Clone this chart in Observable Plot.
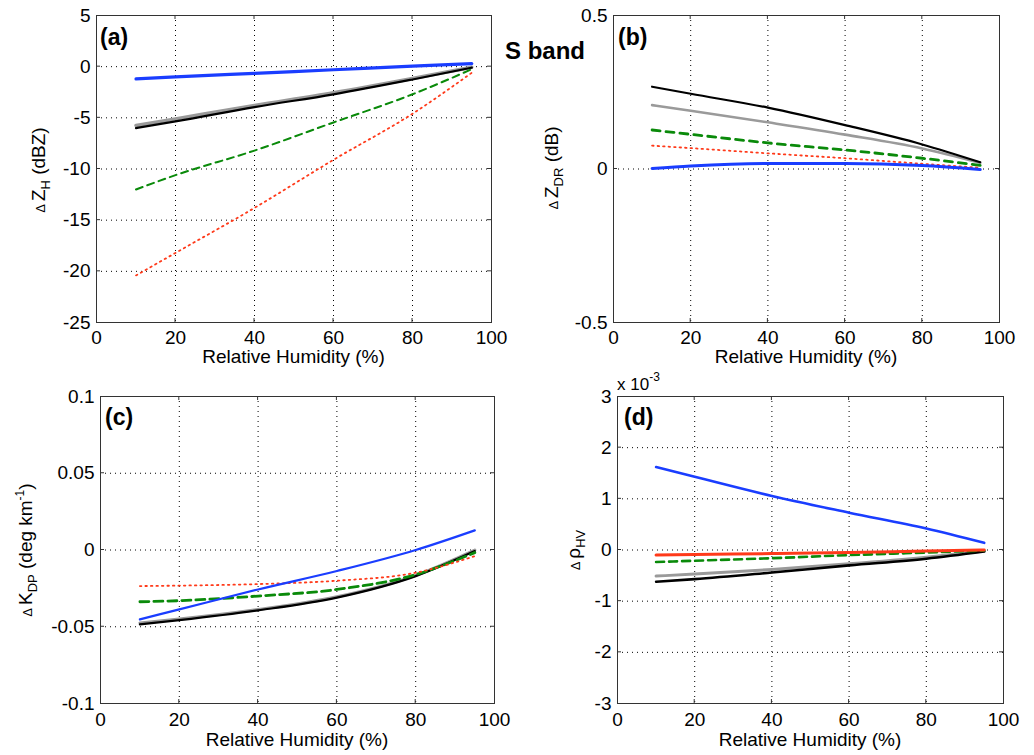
<!DOCTYPE html>
<html><head><meta charset="utf-8">
<script src="https://cdn.jsdelivr.net/npm/d3@7"></script>
<script src="https://cdn.jsdelivr.net/npm/@observablehq/plot@0.6"></script>
<style>
body{margin:0;background:#fff;font-family:"Liberation Sans",Arial,sans-serif;}
#wrap{position:relative;width:1034px;height:755px;overflow:hidden;}
.panel{position:absolute;}
.panel svg{overflow:visible;}
#title{position:absolute;left:505px;top:39px;font:bold 24px "Liberation Sans",Arial,sans-serif;line-height:1;color:#000;white-space:nowrap;}
</style></head><body><div id="wrap"><div id="title">S band</div></div>
<script>
// ---------- data ----------
const rh = [10, 20, 40, 60, 80, 95];               // Relative Humidity (%)
const xTicks = [0, 20, 40, 60, 80, 100];

// (a) ΔZH (dBZ)
const zhTicks = [5, 0, -5, -10, -15, -20, -25];
const zhGray  = [-5.75, -5.1, -3.8, -2.55, -1.15, -0.05];
const zhBlack = [-6.0, -5.35, -3.95, -2.7, -1.25, -0.1];
const zhGreen = [-12.0, -10.6, -8.2, -5.45, -2.7, -0.25];
const zhRed   = [-20.4, -18.2, -13.8, -9.1, -4.6, -0.6];
const zhBlue  = [-1.2, -1.0, -0.65, -0.3, 0.05, 0.3];

// (b) ΔZDR (dB)
const zdrTicks = [0.5, 0, -0.5];
const zdrGray  = [0.208, 0.19, 0.152, 0.112, 0.067, 0.02];
const zdrBlack = [0.268, 0.245, 0.2, 0.143, 0.08, 0.022];
const zdrGreen = [0.127, 0.113, 0.085, 0.062, 0.035, 0.012];
const zdrRed   = [0.076, 0.068, 0.051, 0.035, 0.017, 0.004];
const zdrBlue  = [0.002, 0.01, 0.018, 0.018, 0.011, -0.002];

// (c) ΔKDP (deg km^-1)
const kdpTicks = [0.1, 0.05, 0, -0.05, -0.1];
const kdpGray  = [-0.0475, -0.045, -0.0388, -0.0305, -0.0165, 0.0];
const kdpBlack = [-0.0485, -0.0457, -0.0393, -0.031, -0.017, -0.0007];
const kdpGreen = [-0.0337, -0.033, -0.030, -0.0257, -0.016, -0.0017];
const kdpRed   = [-0.0235, -0.0232, -0.0222, -0.020, -0.0148, -0.004];
const kdpBlue  = [-0.0452, -0.0387, -0.0257, -0.0137, 0.0, 0.0128];

// (d) ΔρHV (x 10^-3)
const rhoTicks = [3, 2, 1, 0, -1, -2, -3];
const rhoGray  = [-0.51, -0.47, -0.38, -0.27, -0.14, -0.02];
const rhoBlack = [-0.62, -0.57, -0.44, -0.3, -0.17, -0.03];
const rhoGreen = [-0.235, -0.21, -0.16, -0.1, -0.05, -0.01];
const rhoRed   = [-0.1, -0.09, -0.07, -0.05, -0.02, 0.0];
const rhoBlue  = [1.62, 1.43, 1.055, 0.73, 0.42, 0.14];

// ---------- styling ----------
const FONT = '"Liberation Sans", Arial, sans-serif';
const COL = {gray: "#9a9a9a", black: "#000000", green: "#0a8a0a", red: "#ff3a1a", blue: "#1a3dff"};

function rows(obj) {
  const out = [];
  for (const k of Object.keys(obj)) obj[k].forEach((v, i) => out.push({x: rh[i], y: v, s: k}));
  return out;
}

function panel(cfg) {
  const {left, top, width, height, m, yTicks, series, sty} = cfg;
  const data = rows(series);
  const yDom = [d3.min(yTicks), d3.max(yTicks)];
  const gridY = yTicks.filter(t => t !== yDom[0] && t !== yDom[1]);
  const lineMarks = Object.keys(series).map(k => Plot.line(data.filter(d => d.s === k), {
    x: "x", y: "y", stroke: COL[k], strokeWidth: sty[k].w,
    strokeDasharray: sty[k].dash || null, curve: "monotone-x"
  }));
  const svg = Plot.plot({
    width, height,
    marginLeft: m[0], marginRight: m[1], marginTop: m[2], marginBottom: m[3],
    style: {fontFamily: FONT, fontSize: "19px", color: "#000", background: "transparent", overflow: "visible"},
    x: {domain: [0, 100], ticks: xTicks, tickFormat: d => String(d), tickSize: 0, tickPadding: cfg.xPad, label: null},
    y: {domain: yDom, ticks: yTicks, tickFormat: d => String(d), tickSize: 0, tickPadding: 6, label: null},
    marks: [
      Plot.ruleX([20, 40, 60, 80], {stroke: "#000", strokeWidth: 1, strokeDasharray: "1,4"}),
      Plot.ruleY(gridY, {stroke: "#000", strokeWidth: 1, strokeDasharray: "1,4"}),
      ...lineMarks,
      Plot.frame({stroke: "#333", strokeWidth: 1})
    ]
  });
  const s = d3.select(svg);
  const xs = svg.scale("x"), ys = svg.scale("y");
  const X0 = m[0], X1 = width - m[1], Y0 = m[2], Y1 = height - m[3];
  // small inward tick marks on all four sides
  const tk = s.append("g").attr("stroke", "#333").attr("stroke-width", 1);
  for (const v of xTicks.slice(1, -1)) {
    const px = xs.apply(v);
    tk.append("line").attr("x1", px).attr("x2", px).attr("y1", Y1).attr("y2", Y1 - 4);
    tk.append("line").attr("x1", px).attr("x2", px).attr("y1", Y0).attr("y2", Y0 + 4);
  }
  for (const v of gridY) {
    const py = ys.apply(v);
    tk.append("line").attr("x1", X0).attr("x2", X0 + 4).attr("y1", py).attr("y2", py);
    tk.append("line").attr("x1", X1).attr("x2", X1 - 4).attr("y1", py).attr("y2", py);
  }
  // panel letter
  s.append("text").attr("x", cfg.letter[0]).attr("y", cfg.letter[1]).attr("text-anchor", "start")
    .attr("font-size", 23).attr("font-weight", "bold").attr("font-family", FONT).attr("fill", "#000")
    .text(cfg.letter[2]);
  // x label
  s.append("text").attr("x", X0 + (X1 - X0) / 2).attr("y", cfg.xLabelY)
    .attr("text-anchor", "middle").attr("font-size", 19).attr("font-family", FONT).attr("fill", "#000")
    .text("Relative Humidity (%)");
  // y label (rotated, with sub/superscripts)
  const t = s.append("text").attr("transform", `translate(${cfg.yLab[0]},${cfg.yLab[1]}) rotate(-90)`)
    .attr("text-anchor", "middle").attr("font-family", FONT).attr("fill", "#000");
  for (const p of cfg.yParts) {
    const ts = t.append("tspan").attr("font-size", p.size).text(p.t);
    if (p.dy) ts.attr("dy", p.dy);
  }
  if (cfg.extra) cfg.extra(s);
  const div = document.createElement("div");
  div.className = "panel";
  div.style.left = left + "px"; div.style.top = top + "px";
  div.appendChild(svg);
  document.getElementById("wrap").appendChild(div);
}

// (a)
panel({
  left: 0, top: 0, width: 517, height: 370, m: [96, 26, 15, 48], xPad: 8,
  yTicks: zhTicks,
  series: {gray: zhGray, black: zhBlack, green: zhGreen, red: zhRed, blue: zhBlue},
  sty: {gray: {w: 3.5}, black: {w: 2.2}, green: {w: 2, dash: "7,5"}, red: {w: 1.8, dash: "1.5,4"}, blue: {w: 3.2}},
  letter: [100, 45, "(a)"], xLabelY: 363, yLab: [45, 170],
  yParts: [{t: "\u0394 ", size: 13}, {t: "Z", size: 19}, {t: "H", size: 13, dy: 5}, {t: " (dBZ)", size: 19, dy: -5}]
});
// (b)
panel({
  left: 517, top: 0, width: 517, height: 370, m: [96, 35, 15, 48], xPad: 8,
  yTicks: zdrTicks,
  series: {gray: zdrGray, black: zdrBlack, green: zdrGreen, red: zdrRed, blue: zdrBlue},
  sty: {gray: {w: 2.6}, black: {w: 2.2}, green: {w: 2.8, dash: "8,6"}, red: {w: 1.8, dash: "1.5,4"}, blue: {w: 3}},
  letter: [101, 45, "(b)"], xLabelY: 363, yLab: [41, 168],
  yParts: [{t: "\u0394 ", size: 13}, {t: "Z", size: 19}, {t: "DR", size: 13, dy: 5}, {t: " (dB)", size: 19, dy: -5}]
});
// (c)
panel({
  left: 0, top: 370, width: 517, height: 385, m: [100, 23, 26, 52], xPad: 9,
  yTicks: kdpTicks,
  series: {gray: kdpGray, black: kdpBlack, green: kdpGreen, red: kdpRed, blue: kdpBlue},
  sty: {gray: {w: 3}, black: {w: 2.2}, green: {w: 2.8, dash: "9,5"}, red: {w: 1.8, dash: "1.5,4"}, blue: {w: 2.2}},
  letter: [105, 55, "(c)"], xLabelY: 376, yLab: [32, 180],
  yParts: [{t: "\u0394 ", size: 13}, {t: "K", size: 19}, {t: "DP", size: 13, dy: 5}, {t: " (deg km", size: 19, dy: -5},
           {t: "-1", size: 12, dy: -8}, {t: ")", size: 19, dy: 8}]
});
// (d)
panel({
  left: 517, top: 370, width: 517, height: 385, m: [100, 31, 26, 52], xPad: 9,
  yTicks: rhoTicks,
  series: {gray: rhoGray, black: rhoBlack, green: rhoGreen, red: rhoRed, blue: rhoBlue},
  sty: {gray: {w: 3}, black: {w: 2.6}, green: {w: 2.6, dash: "8,5"}, red: {w: 3}, blue: {w: 2.6}},
  letter: [107, 55, "(d)"], xLabelY: 376, yLab: [63, 180],
  yParts: [{t: "\u0394 ", size: 13}, {t: "\u03c1", size: 19}, {t: "HV", size: 13, dy: 5}],
  extra: s => {
    const t = s.append("text").attr("x", 100).attr("y", 20).attr("text-anchor", "start")
      .attr("font-family", FONT).attr("fill", "#000");
    t.append("tspan").attr("font-size", 17).text("x 10");
    t.append("tspan").attr("font-size", 12).attr("dy", -9).text("-3");
  }
});
</script></body></html>
